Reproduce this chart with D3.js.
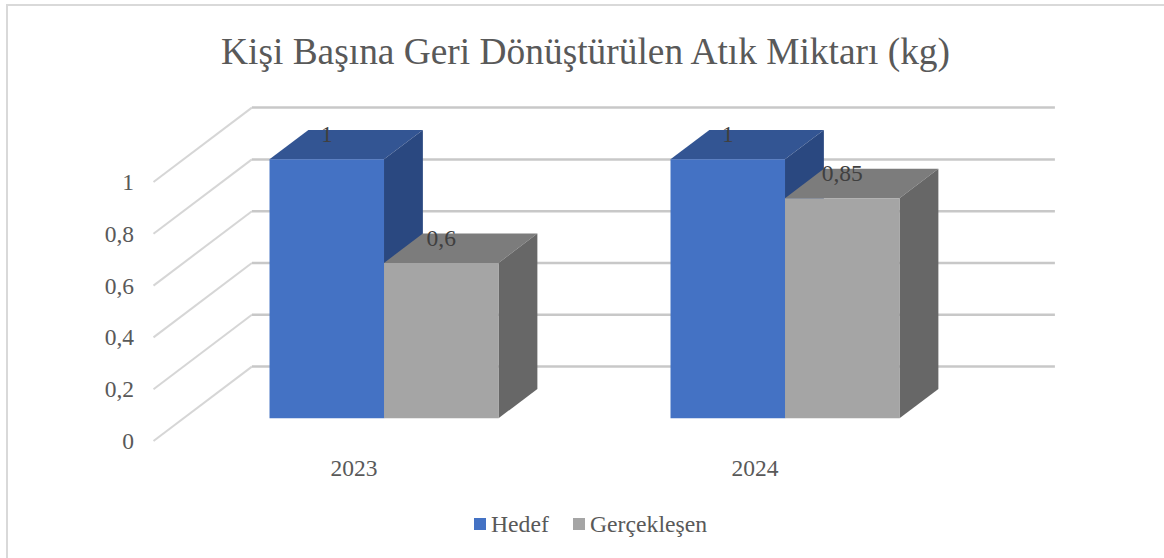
<!DOCTYPE html>
<html>
<head>
<meta charset="utf-8">
<script src="https://cdnjs.cloudflare.com/ajax/libs/d3/7.8.5/d3.min.js"></script>
<style>
  html, body { margin: 0; padding: 0; background: #fff; overflow: hidden; }
  text { font-family: "Liberation Serif", serif; }
  .axis text { font-size: 23.5px; fill: #595959; }
  .axis path, .axis line { display: none; }
</style>
</head>
<body>
<div id="chart"></div>
<script>
// data
var titleText = "Kişi Başına Geri Dönüştürülen Atık Miktarı (kg)";
var years = ["2023", "2024"];
var seriesNames = ["Hedef", "Gerçekleşen"];
var hedef = [1, 1];
var gerceklesen = [0.6, 0.85];
var yTicks = [0, 0.2, 0.4, 0.6, 0.8, 1];

var faceColors = {
  "Hedef": { front: "#4472c4", top: "#335593", side: "#2a4880" },
  "Gerçekleşen": { front: "#a5a5a5", top: "#7c7c7c", side: "#676767" }
};

var width = 1164,
    height = 558;

var svg = d3.select("#chart").append("svg")
    .attr("width", width)
    .attr("height", height);

// frame, only top and left edges are in the picture
svg.append("path")
    .attr("d", "M7,558V5H1164")
    .attr("fill", "none")
    .attr("stroke", "#d9d9d9")
    .attr("stroke-width", 2);

svg.append("text")
    .attr("x", 585.5)
    .attr("y", 64)
    .attr("text-anchor", "middle")
    .style("font-size", "37.4px")
    .style("fill", "#595959")
    .text(titleText);

// front plane scales
var xScale = d3.scaleBand().domain(years).range([153.5, 955.5]);
var yScale = d3.scaleLinear().domain([0, 1]).range([441, 182]);

// depth goes from front of floor (0) to back wall (1)
var depthX = d3.scaleLinear().domain([0, 1]).range([0, 98.4]);
var depthY = d3.scaleLinear().domain([0, 1]).range([0, -74.4]);

var barFront = 0.305,
    barBack = 0.70,
    barWidth = 114.5;

var xSeries = d3.scaleBand()
    .domain(seriesNames)
    .range([0, barWidth * 2]);

function project(x, value, z) {
  return [x + depthX(z), yScale(value) + depthY(z)];
}

// -------------------- walls --------------------
var grid = svg.append("g");

grid.selectAll(".side-line")
    .data(yTicks)
    .enter()
    .append("line")
    .attr("x1", function(d) { return project(153.5, d, 0)[0]; })
    .attr("y1", function(d) { return project(153.5, d, 0)[1]; })
    .attr("x2", function(d) { return project(153.5, d, 1)[0]; })
    .attr("y2", function(d) { return project(153.5, d, 1)[1]; })
    .attr("stroke", "#d6d6d6")
    .attr("stroke-width", 2);

grid.selectAll(".back-line")
    .data(yTicks)
    .enter()
    .append("line")
    .attr("x1", function(d) { return project(153.5, d, 1)[0]; })
    .attr("y1", function(d) { return project(153.5, d, 1)[1]; })
    .attr("x2", function(d) { return project(955.5, d, 1)[0] + 1; })
    .attr("y2", function(d) { return project(955.5, d, 1)[1]; })
    .attr("stroke", "#c8c8c8")
    .attr("stroke-width", 2.5);

// -------------------- axes --------------------
var commaFormat = function(d) { return String(d).replace(".", ","); };

svg.append("g")
    .attr("class", "axis")
    .attr("transform", "translate(134,0)")
    .call(d3.axisLeft(yScale).tickValues(yTicks).tickSize(0).tickPadding(0).tickFormat(commaFormat));

svg.append("g")
    .attr("class", "axis")
    .attr("transform", "translate(0,459)")
    .call(d3.axisBottom(xScale).tickSize(0).tickPadding(0));

// -------------------- bars --------------------
var bars = [];
years.forEach(function(year, i) {
  bars.push({ year: year, name: seriesNames[0], value: hedef[i] });
  bars.push({ year: year, name: seriesNames[1], value: gerceklesen[i] });
});

function barLeft(d) {
  var slot = xScale(d.year) + (xScale.bandwidth() - barWidth * 2) / 2;
  return slot + xSeries(d.name);
}

function polygon(points) {
  return points.map(function(p) { return p.join(","); }).join(" ");
}

var barGroups = svg.selectAll(".bar")
    .data(bars)
    .enter()
    .append("g")
    .attr("class", "bar");

barGroups.append("polygon")
    .attr("fill", function(d) { return faceColors[d.name].top; })
    .attr("points", function(d) {
      var l = barLeft(d), r = l + barWidth;
      return polygon([project(l, d.value, barFront), project(r, d.value, barFront),
                      project(r, d.value, barBack), project(l, d.value, barBack)]);
    });

barGroups.append("polygon")
    .attr("fill", function(d) { return faceColors[d.name].side; })
    .attr("points", function(d) {
      var r = barLeft(d) + barWidth;
      return polygon([project(r, 0, barFront), project(r, d.value, barFront),
                      project(r, d.value, barBack), project(r, 0, barBack)]);
    });

barGroups.append("polygon")
    .attr("fill", function(d) { return faceColors[d.name].front; })
    .attr("points", function(d) {
      var l = barLeft(d), r = l + barWidth;
      return polygon([project(l, 0, barFront), project(r, 0, barFront),
                      project(r, d.value, barFront), project(l, d.value, barFront)]);
    });

// labels go on top of every bar
svg.selectAll(".bar-label")
    .data(bars)
    .enter()
    .append("text")
    .attr("class", "bar-label")
    .attr("x", function(d) { return project(barLeft(d) + barWidth / 2, d.value, barFront)[0]; })
    .attr("y", function(d) { return project(0, d.value, barBack)[1] + 12; })
    .attr("text-anchor", "middle")
    .style("font-size", "23.5px")
    .style("fill", "#404040")
    .text(function(d) { return commaFormat(d.value); });

// -------------------- legend --------------------
var legendX = d3.scaleOrdinal().domain(seriesNames).range([474, 573]);

var legend = svg.selectAll(".legend")
    .data(seriesNames)
    .enter()
    .append("g")
    .attr("class", "legend")
    .attr("transform", function(d) { return "translate(" + legendX(d) + ",518)"; });

legend.append("rect")
    .attr("width", 12)
    .attr("height", 12)
    .attr("fill", function(d) { return faceColors[d].front; });

legend.append("text")
    .attr("x", 17)
    .attr("y", 13.5)
    .style("font-size", "23.7px")
    .style("fill", "#595959")
    .text(function(d) { return d; });
</script>
</body>
</html>
